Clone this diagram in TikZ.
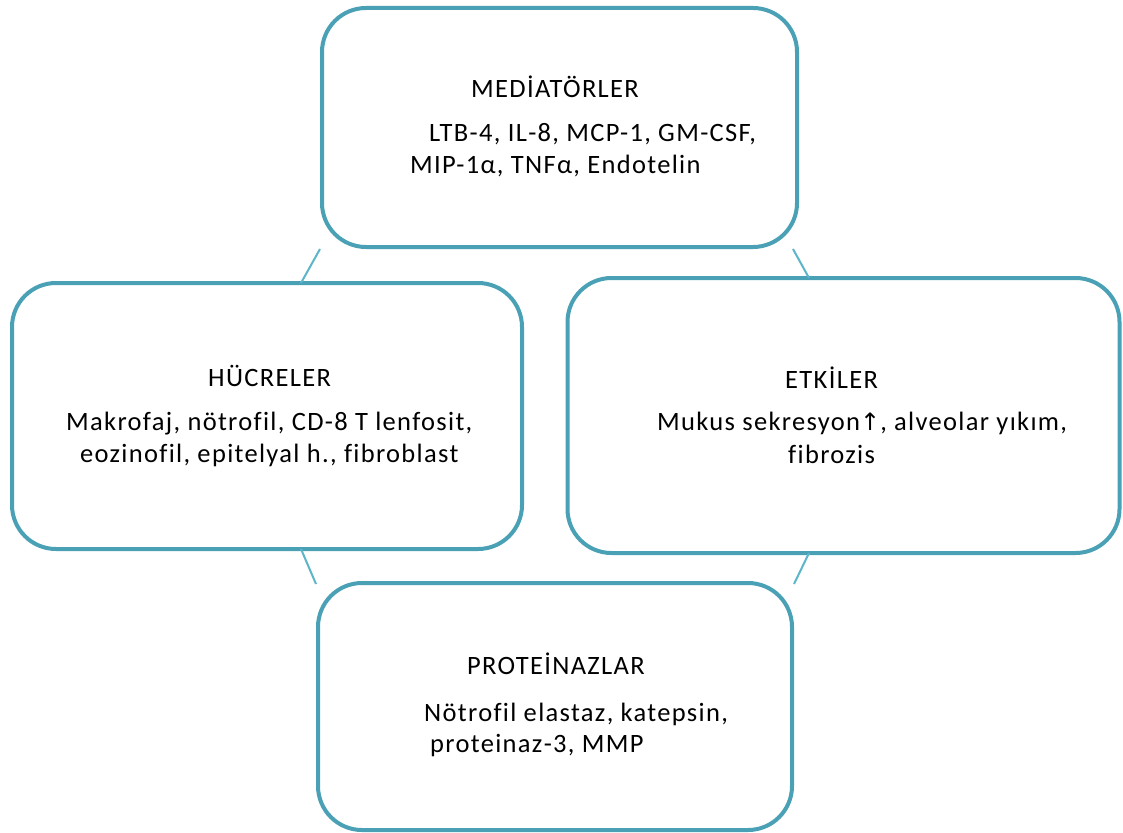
\documentclass[tikz,border=0pt]{standalone}
\usepackage{fontspec}
\setmainfont{Carlito}[Ligatures=NoCommon, LetterSpace=5]
\newfontfamily\okfont{DejaVu Sans}
\usetikzlibrary{positioning}
\definecolor{mteal}{rgb}{0.29, 0.63, 0.71}
\definecolor{mline}{rgb}{0.36, 0.71, 0.79}
\tikzset{kutu/.style = {draw = mteal, line width = 4pt, rounded corners = 44pt, inner sep = 0}}
\tikzset{yazi/.style = {anchor = base west, inner sep = 0, font = \fontsize{26.5}{32}\selectfont}}
\tikzset{bag/.style = {draw = mline, line width = 2pt}}

\begin{document}
\begin{tikzpicture}[x=1pt, y=-1pt]
    \useasboundingbox (0, 0) rectangle (1123, 832);
    % kutular
    \node [kutu, minimum width = 475, minimum height = 239] (med) at (559.5, 127.5) {};
    \node [kutu, minimum width = 510, minimum height = 266] (hucre) at (267, 416) {};
    \node [kutu, minimum width = 552, minimum height = 275] (etki) at (843.5, 415.5) {};
    \node [kutu, minimum width = 474, minimum height = 247] (prot) at (555, 706.5) {};
    % baglantilar
    \coordinate (a1) at (301, 283);
    \coordinate (a2) at (809, 278);
    \coordinate (a3) at (301, 549);
    \coordinate (a4) at (809, 553);
    \draw [bag] (med.south west) -- (a1);
    \draw [bag] ([xshift=-6]med.south east) -- (a2);
    \draw [bag] (a3) -- ([yshift=-3]prot.north west);
    \draw [bag] (a4) -- ([yshift=-3]prot.north east);
    % yazilar
    \node [yazi] (medb) at (471, 98) {MEDİATÖRLER};
    \node [yazi] (med1) at (429, 141) {LTB-4, IL-8, MCP-1, GM-CSF,};
    \node [yazi] (med2) at (410, 173) {MIP-1α, TNFα, Endotelin};
    \node [yazi] (hucreb) at (208, 386) {HÜCRELER};
    \node [yazi] (hucre1) at (66, 430) {Makrofaj, nötrofil, CD-8 T lenfosit,};
    \node [yazi] (hucre2) at (80, 462) {eozinofil, epitelyal h., fibroblast};
    \node [yazi] (etkib) at (785, 388) {ETKİLER};
    \node [yazi] (etki1) at (657, 430) {Mukus sekresyon{\okfont\fontsize{24}{32}\selectfont ↑}, alveolar yıkım,};
    \node [yazi] (etki2) at (788, 463) {fibrozis};
    \node [yazi] (protb) at (467, 674) {PROTEİNAZLAR};
    \node [yazi] (prot1) at (424, 721) {Nötrofil elastaz, katepsin,};
    \node [yazi] (prot2) at (430, 752) {proteinaz-3, MMP};
  \end{tikzpicture}
\end{document}
